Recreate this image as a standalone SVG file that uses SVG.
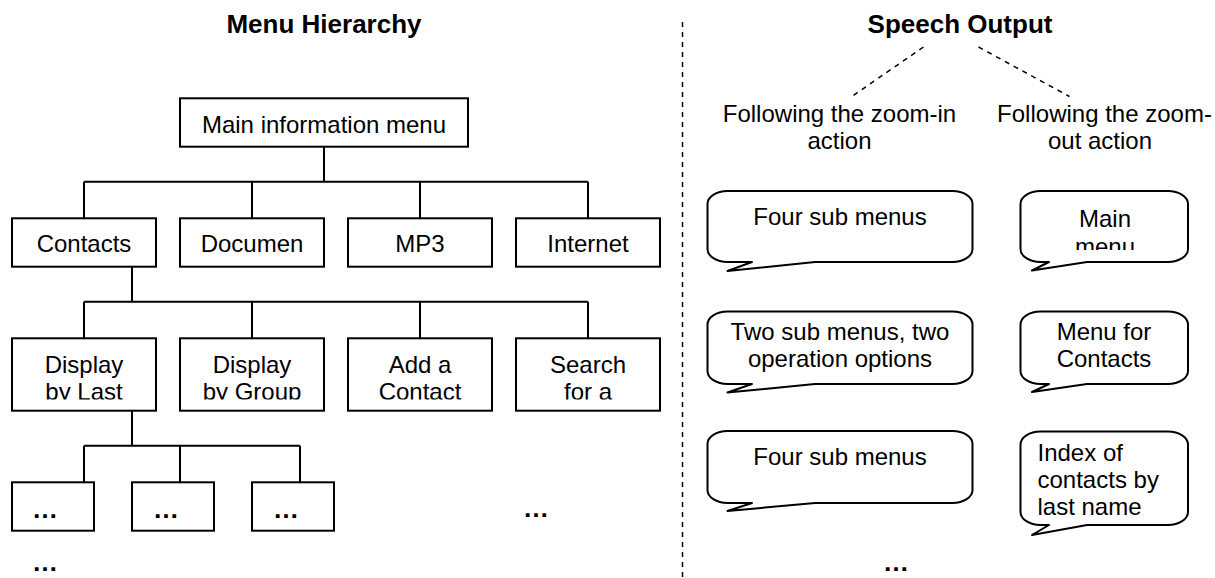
<svg xmlns="http://www.w3.org/2000/svg" width="1215" height="578" viewBox="0 0 1215 578">
  <style>
    .box { fill: #ffffff; stroke: #000000; stroke-width: 2; }
    .bubble { fill: #ffffff; stroke: #000000; stroke-width: 2; stroke-linejoin: round; }
    .wire { fill: none; stroke: #000000; stroke-width: 2; }
    .dash { fill: none; stroke: #000000; stroke-width: 1.5; stroke-dasharray: 5 5; }
    text { font-family: "Liberation Sans", Arial, sans-serif; font-size: 24px; fill: #000000; }
    .title { font-size: 26px; font-weight: bold; text-anchor: middle; }
    .c { text-anchor: middle; }
    .dots { font-size: 26px; font-weight: bold; }
  </style>
  <defs>
    <clipPath id="clipL3"><rect x="0" y="330" width="680" height="69.5"/></clipPath>
    <clipPath id="clipMain"><rect x="1000" y="190" width="200" height="60"/></clipPath>
  </defs>

  <rect width="1215" height="578" fill="#ffffff"/>

  <!-- headings -->
  <text class="title" x="324" y="33">Menu Hierarchy</text>
  <text class="title" x="960" y="33">Speech Output</text>

  <!-- tree connectors and the page divider -->
  <g id="connectors">
    <path class="wire" d="M324 146.7V181.7M84 181.7H588M84 181.7V218.3M252 181.7V218.3M420 181.7V218.3M588 181.7V218.3"/>
    <path class="wire" d="M132 266.7V301.7M84 301.7H588M84 301.7V338.3M252 301.7V338.3M420 301.7V338.3M588 301.7V338.3"/>
    <path class="wire" d="M132 410.7V445.7M84 445.7H300M84 445.7V482.3M180 445.7V482.3M300 445.7V482.3"/>
    <line class="dash" x1="682.5" y1="22" x2="682.5" y2="578"/>
    <line class="dash" x1="923.5" y1="47" x2="852.5" y2="96"/>
    <line class="dash" x1="978.5" y1="47" x2="1069.5" y2="96.5"/>
  </g>

  <!-- menu hierarchy -->
  <g id="main-menu">
    <rect class="box" x="180" y="98.3" width="288" height="48.4"/>
    <text class="c" x="324" y="133.3">Main information menu</text>
  </g>

  <g id="contacts">
    <rect class="box" x="12" y="218.3" width="144" height="48.4"/>
    <text class="c" x="84" y="251.7">Contacts</text>
  </g>
  <g id="documents">
    <rect class="box" x="180" y="218.3" width="144" height="48.4"/>
    <text class="c" x="252" y="251.7">Documen</text>
  </g>
  <g id="mp3">
    <rect class="box" x="348" y="218.3" width="144" height="48.4"/>
    <text class="c" x="420" y="251.7">MP3</text>
  </g>
  <g id="internet">
    <rect class="box" x="516" y="218.3" width="144" height="48.4"/>
    <text class="c" x="588" y="251.7">Internet</text>
  </g>

  <g id="display-by-last">
    <rect class="box" x="12" y="338.3" width="144" height="72.4"/>
    <g clip-path="url(#clipL3)">
      <text class="c" x="84" y="373">Display</text>
      <text class="c" x="84" y="400">by Last</text>
    </g>
  </g>
  <g id="display-by-group">
    <rect class="box" x="180" y="338.3" width="144" height="72.4"/>
    <g clip-path="url(#clipL3)">
      <text class="c" x="252" y="373">Display</text>
      <text class="c" x="252" y="400">by Group</text>
    </g>
  </g>
  <g id="add-contact">
    <rect class="box" x="348" y="338.3" width="144" height="72.4"/>
    <g clip-path="url(#clipL3)">
      <text class="c" x="420" y="373">Add a</text>
      <text class="c" x="420" y="400">Contact</text>
    </g>
  </g>
  <g id="search-contact">
    <rect class="box" x="516" y="338.3" width="144" height="72.4"/>
    <g clip-path="url(#clipL3)">
      <text class="c" x="588" y="373">Search</text>
      <text class="c" x="588" y="400">for a</text>
    </g>
  </g>

  <g id="sub-1">
    <rect class="box" x="12" y="482.3" width="82" height="48.4"/>
    <text class="dots" x="32" y="518">…</text>
  </g>
  <g id="sub-2">
    <rect class="box" x="132" y="482.3" width="82" height="48.4"/>
    <text class="dots" x="153" y="518">…</text>
  </g>
  <g id="sub-3">
    <rect class="box" x="252" y="482.3" width="82" height="48.4"/>
    <text class="dots" x="273" y="518">…</text>
  </g>
  <text class="dots" x="523" y="516.5">…</text>
  <text class="dots" x="32" y="571">…</text>

  <!-- speech output column -->
  <text class="c" x="839.5" y="122">Following the zoom-in</text>
  <text class="c" x="839.5" y="149">action</text>
  <text class="c" x="1104.5" y="122">Following the zoom-</text>
  <text class="c" x="1100" y="149">out action</text>

  <g id="zoom-in-1">
    <path class="bubble" d="M727.5 191H952.5A20 13 0 0 1 972.5 204V249A20 13 0 0 1 952.5 262H815L727.5 271L752 262H727.5A20 13 0 0 1 707.5 249V204A20 13 0 0 1 727.5 191Z"/>
    <text class="c" x="840" y="225">Four sub menus</text>
  </g>
  <g id="zoom-out-1">
    <path class="bubble" d="M1040.5 191H1168A20 13 0 0 1 1188 204V249A20 13 0 0 1 1168 262H1087L1032 270.5L1049 262H1040.5A20 13 0 0 1 1020.5 249V204A20 13 0 0 1 1040.5 191Z"/>
    <g clip-path="url(#clipMain)">
      <text class="c" x="1105" y="227">Main</text>
      <text class="c" x="1105" y="254.5">menu</text>
    </g>
  </g>

  <g id="zoom-in-2">
    <path class="bubble" d="M727.5 311.5H952.5A20 13 0 0 1 972.5 324.5V371A20 13 0 0 1 952.5 384H815L727.5 392.5L752 384H727.5A20 13 0 0 1 707.5 371V324.5A20 13 0 0 1 727.5 311.5Z"/>
    <text class="c" x="840" y="340">Two sub menus, two</text>
    <text class="c" x="840" y="367">operation options</text>
  </g>
  <g id="zoom-out-2">
    <path class="bubble" d="M1040.5 311.5H1168A20 13 0 0 1 1188 324.5V371A20 13 0 0 1 1168 384H1087L1032 392L1049 384H1040.5A20 13 0 0 1 1020.5 371V324.5A20 13 0 0 1 1040.5 311.5Z"/>
    <text class="c" x="1104" y="340">Menu for</text>
    <text class="c" x="1104" y="367">Contacts</text>
  </g>

  <g id="zoom-in-3">
    <path class="bubble" d="M727.5 431H952.5A20 13 0 0 1 972.5 444V490A20 13 0 0 1 952.5 503H815L727.5 511L752 503H727.5A20 13 0 0 1 707.5 490V444A20 13 0 0 1 727.5 431Z"/>
    <text class="c" x="840" y="465">Four sub menus</text>
  </g>
  <g id="zoom-out-3">
    <path class="bubble" d="M1040.5 431.5H1168A20 13 0 0 1 1188 444.5V512A20 13 0 0 1 1168 525H1087L1032 535L1049 525H1040.5A20 13 0 0 1 1020.5 512V444.5A20 13 0 0 1 1040.5 431.5Z"/>
    <text x="1037.5" y="461">Index of</text>
    <text x="1037.5" y="488">contacts by</text>
    <text x="1037.5" y="515">last name</text>
  </g>
  <text class="dots" x="883" y="571">…</text>
</svg>
